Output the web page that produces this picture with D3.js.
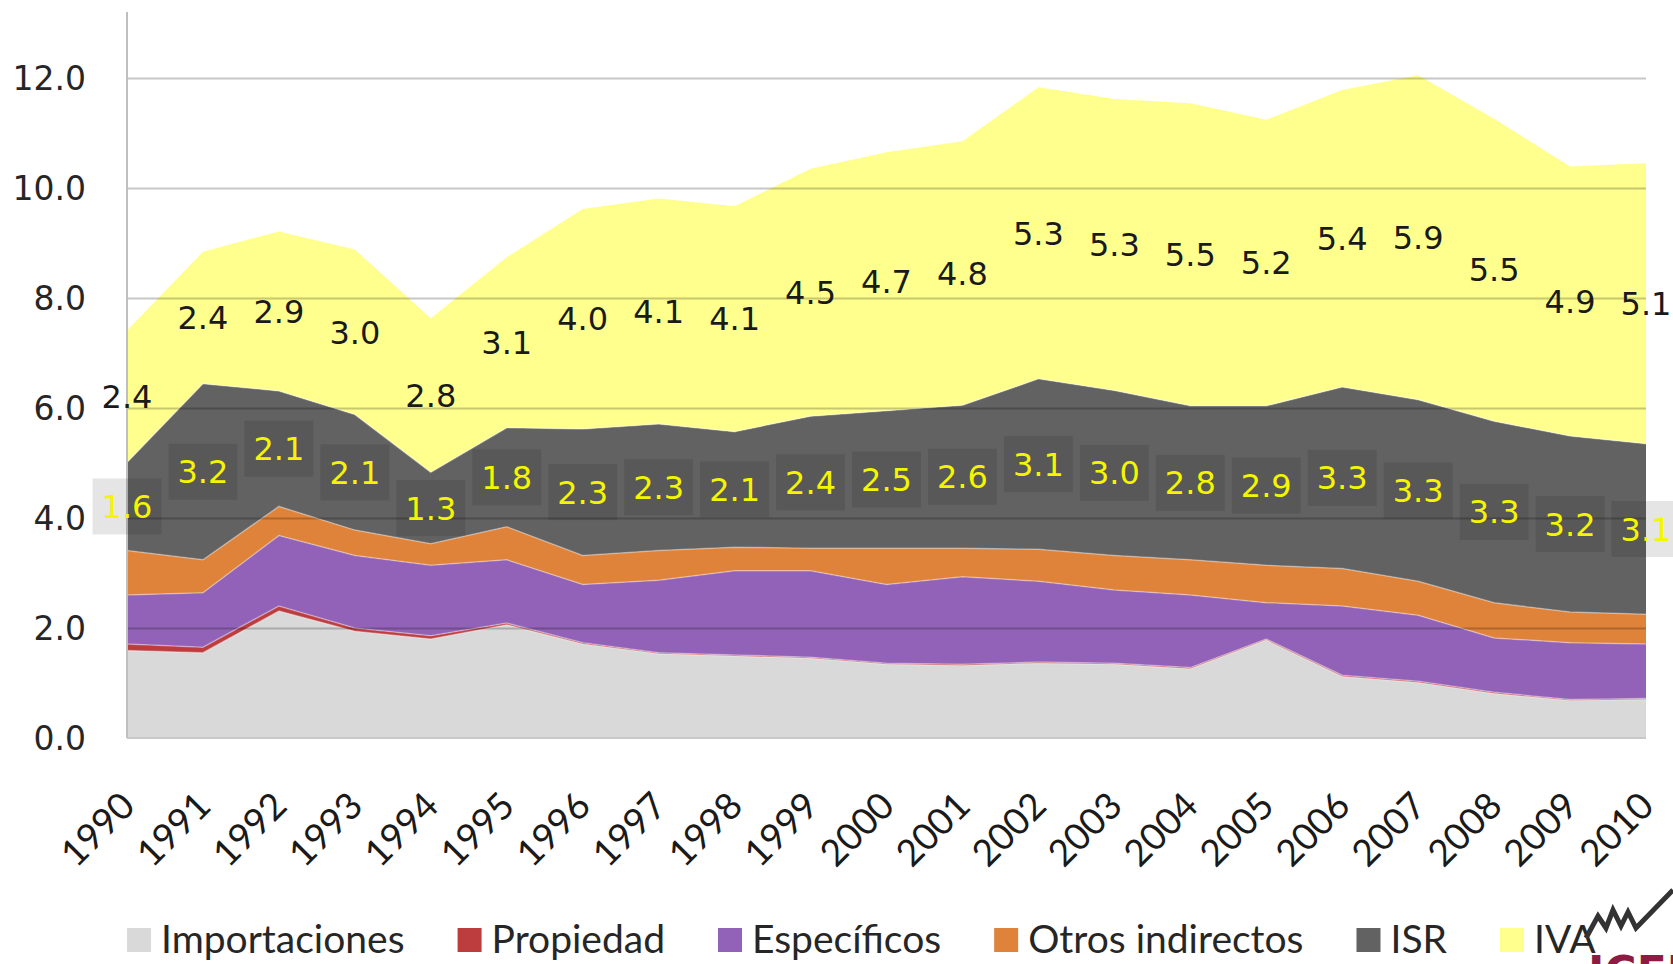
<!DOCTYPE html>
<html>
<head>
<meta charset="utf-8">
<script src="https://cdn.jsdelivr.net/npm/d3@7"></script>
<style>
  body { margin: 0; background: #fff; }
  svg { display: block; }
</style>
</head>
<body>
<div class="canvas"></div>
<script>
// data (percent of GDP)
const years = ["1990","1991","1992","1993","1994","1995","1996","1997","1998","1999","2000",
               "2001","2002","2003","2004","2005","2006","2007","2008","2009","2010"];
const importaciones = [1.59,1.55,2.31,1.94,1.80,2.06,1.71,1.53,1.49,1.45,1.34,1.32,1.36,1.34,1.26,1.78,1.12,1.01,0.81,0.68,0.70];
const propiedad = [0.12,0.10,0.09,0.06,0.06,0.03,0.02,0.02,0.02,0.02,0.02,0.02,0.02,0.02,0.02,0.02,0.02,0.02,0.02,0.02,0.02];
const especificos = [0.89,0.99,1.28,1.32,1.28,1.15,1.06,1.32,1.53,1.57,1.43,1.59,1.47,1.33,1.32,0.66,1.26,1.20,0.99,1.03,0.99];
const otrosIndirectos = [0.81,0.60,0.53,0.46,0.39,0.60,0.53,0.54,0.43,0.41,0.66,0.52,0.58,0.63,0.64,0.68,0.68,0.62,0.64,0.56,0.54];
const isr = [1.6,3.2,2.1,2.1,1.3,1.8,2.3,2.3,2.1,2.4,2.5,2.6,3.1,3.0,2.8,2.9,3.3,3.3,3.3,3.2,3.1];
const iva = [2.4,2.4,2.9,3.0,2.8,3.1,4.0,4.1,4.1,4.5,4.7,4.8,5.3,5.3,5.5,5.2,5.4,5.9,5.5,4.9,5.1];
const yTicks = [0, 2, 4, 6, 8, 10, 12];

const seriesNames = ["Importaciones", "Propiedad", "Específicos", "Otros indirectos", "ISR", "IVA"];
const seriesValues = [importaciones, propiedad, especificos, otrosIndirectos, isr, iva];
const colors = ["#d9d9d9", "#bd3d3f", "#9162b8", "#e0833a", "#626262", "#ffff8e"];

const width = 1673, height = 964;
const plot = { left: 127, right: 1646, top: 12, bottom: 738 };

const table = years.map((yr, i) => {
    let row = { year: yr };
    seriesNames.forEach((s, k) => row[s] = seriesValues[k][i]);
    return row;
});

const svg = d3.select(".canvas").append("svg")
    .attr("width", width)
    .attr("height", height);

// scales
const x = d3.scalePoint()
    .domain(years)
    .range([plot.left, plot.right]);

const y = d3.scaleLinear()
    .domain([0, 13.2])
    .range([plot.bottom, plot.top]);

const stacked = d3.stack().keys(seriesNames)(table);

const area = d3.area()
    .x(d => x(d.data.year))
    .y0(d => y(d[0]))
    .y1(d => y(d[1]));

const topLine = d3.line()
    .x(d => x(d.data.year))
    .y(d => y(d[1]));

const graph = svg.append("g").attr("class", "graph");

graph.selectAll(".layer")
    .data(stacked)
    .enter().append("path")
    .attr("class", "layer")
    .attr("fill", (d, i) => colors[i])
    .attr("d", area);

graph.selectAll(".edge")
    .data(stacked.slice(0, 5))
    .enter().append("path")
    .attr("class", "edge")
    .attr("fill", "none")
    .attr("stroke", "#fff")
    .attr("stroke-opacity", 0.35)
    .attr("stroke-width", 1.5)
    .attr("d", topLine);

// gridlines drawn over the areas, like the original
const yAxis = d3.axisLeft(y)
    .tickValues(yTicks.filter(t => t > 0))
    .tickSize(-(plot.right - plot.left))
    .tickFormat("");

svg.append("g")
    .attr("class", "grid")
    .attr("transform", `translate(${plot.left},0)`)
    .call(yAxis)
    .call(g => g.select(".domain").remove())
    .call(g => g.selectAll("line")
        .attr("stroke", "#000")
        .attr("stroke-opacity", 0.22)
        .attr("stroke-width", 2));

// axis lines
svg.append("line")
    .attr("x1", plot.left).attr("x2", plot.left)
    .attr("y1", plot.top).attr("y2", plot.bottom)
    .attr("stroke", "#bfbfbf").attr("stroke-width", 2);

svg.append("line")
    .attr("x1", plot.left).attr("x2", plot.right)
    .attr("y1", plot.bottom).attr("y2", plot.bottom)
    .attr("stroke", "#c8c8c8").attr("stroke-width", 2);

// y tick labels
svg.append("g")
    .selectAll("text")
    .data(yTicks)
    .enter().append("text")
    .attr("x", 86)
    .attr("y", d => y(d))
    .attr("dy", "0.36em")
    .attr("text-anchor", "end")
    .attr("font-family", "'DejaVu Sans', Verdana, sans-serif")
    .attr("font-size", 33)
    .attr("fill", "#262626")
    .text(d => d3.format(".1f")(d));

// x labels, rotated
svg.append("g")
    .selectAll("text")
    .data(years)
    .enter().append("text")
    .attr("transform", d => `translate(${x(d) + 10}, 808) rotate(-45)`)
    .attr("text-anchor", "end")
    .attr("font-family", "Lato, 'Open Sans', sans-serif")
    .attr("font-size", 37)
    .attr("fill", "#1a1a1a")
    .text(d => d);

// data labels for ISR (boxed, yellow) and IVA (black)
const isrLayer = stacked[4], ivaLayer = stacked[5];
const labelFont = "'DejaVu Sans', Verdana, sans-serif";

const isrLabels = svg.append("g").attr("class", "isr-labels");

isrLayer.forEach((d, i) => {
    let cx = x(d.data.year), cy = y((d[0] + d[1]) / 2);
    let g = isrLabels.append("g");
    let rect = g.append("rect");
    let t = g.append("text")
        .attr("x", cx)
        .attr("y", cy)
        .attr("dy", "0.36em")
        .attr("text-anchor", "middle")
        .attr("font-family", labelFont)
        .attr("font-size", 32)
        .attr("fill", "#f5f500")
        .text(d3.format(".1f")(isr[i]));
    let w = t.node().getComputedTextLength() + 18;
    rect.attr("x", cx - w / 2)
        .attr("y", cy - 28)
        .attr("width", w)
        .attr("height", 56)
        .attr("fill", "#000")
        .attr("fill-opacity", 0.1);
});

svg.append("g")
    .attr("class", "iva-labels")
    .selectAll("text")
    .data(ivaLayer)
    .enter().append("text")
    .attr("x", d => x(d.data.year))
    .attr("y", d => y((d[0] + d[1]) / 2))
    .attr("dy", "0.36em")
    .attr("text-anchor", "middle")
    .attr("font-family", labelFont)
    .attr("font-size", 32)
    .attr("fill", "#1a1a1a")
    .text((d, i) => d3.format(".1f")(iva[i]));

// legend
const legend = svg.append("g").attr("class", "legend");
let lx = 127;
seriesNames.forEach((s, i) => {
    legend.append("rect")
        .attr("x", lx)
        .attr("y", 928)
        .attr("width", 24)
        .attr("height", 24)
        .attr("fill", colors[i]);
    let t = legend.append("text")
        .attr("x", lx + 34)
        .attr("y", 953)
        .attr("font-family", "Lato, 'Open Sans', sans-serif")
        .attr("font-size", 39)
        .attr("fill", "#262626")
        .text(s);
    lx += 34 + t.node().getComputedTextLength() + 53;
});

// logo fragment in the corner
svg.append("polyline")
    .attr("points", "1586,938 1598,916 1606,928 1613,910 1621,926 1628,912 1636,928 1673,890")
    .attr("fill", "none")
    .attr("stroke", "#333")
    .attr("stroke-width", 5);

svg.append("text")
    .attr("x", 1588)
    .attr("y", 988)
    .attr("font-family", "'DejaVu Sans', sans-serif")
    .attr("font-weight", "bold")
    .attr("font-size", 44)
    .attr("fill", "#8e1b42")
    .text("ICEFI");
</script>
</body>
</html>
